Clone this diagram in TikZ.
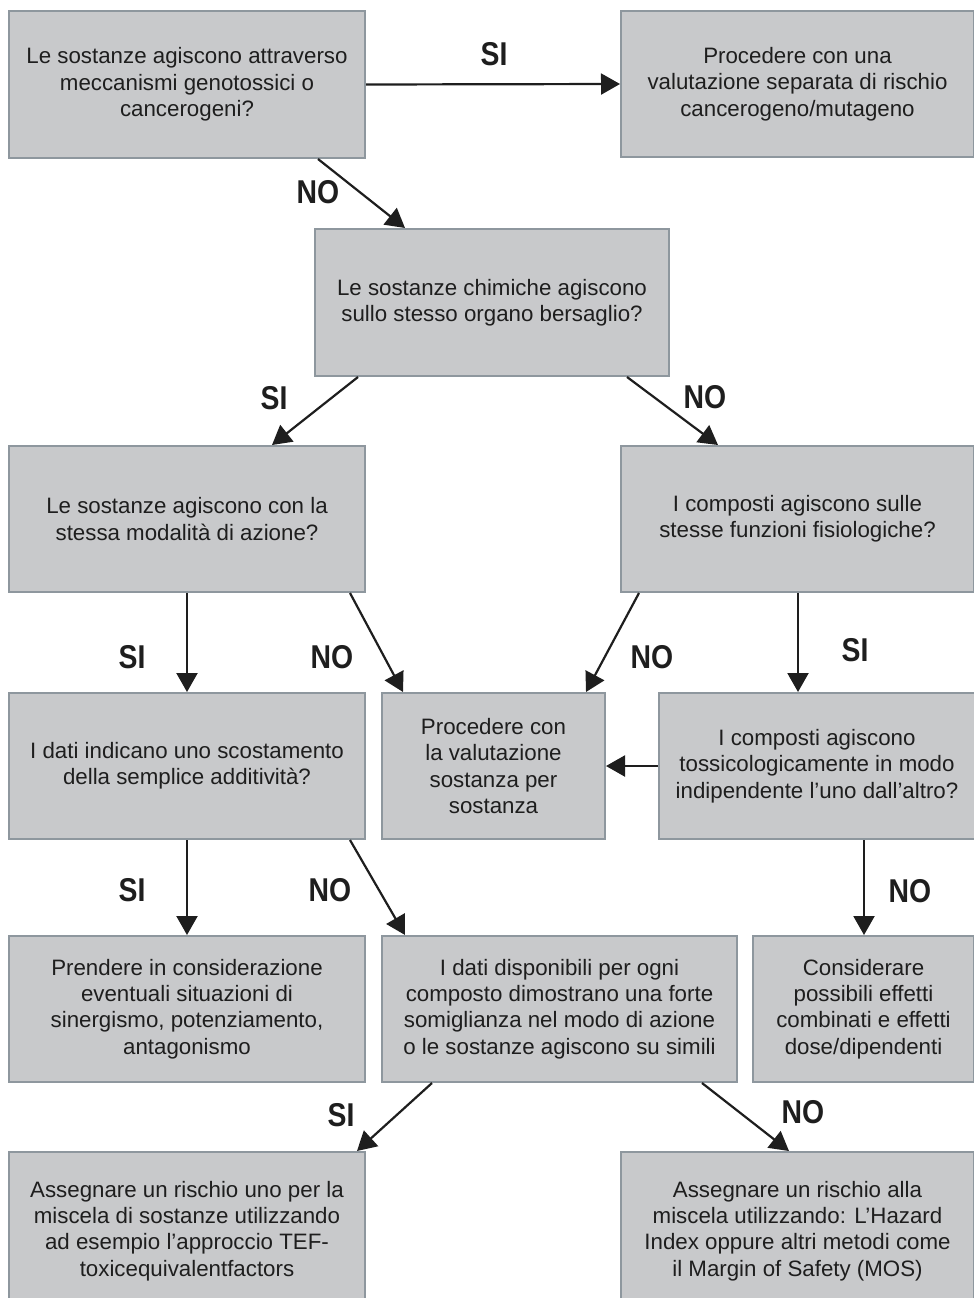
\documentclass[tikz,border=0pt]{standalone}
\usepackage{fontspec}
\setmainfont{Liberation Sans}
\newfontfamily\lblfont{Liberation Sans}[FakeStretch=0.86]
\usetikzlibrary{arrows.meta,calc}
\definecolor{boxfill}{HTML}{C8C9CB}
\definecolor{boxline}{HTML}{8E979E}
\definecolor{ink}{HTML}{1E1E1E}
\tikzset{
  box/.style={draw=boxline, fill=boxfill, line width=2pt, text=ink, align=center,
    inner sep=0pt, font=\fontsize{22.3}{26.3}\selectfont},
  lbl/.style={text=ink, inner sep=0pt, font=\lblfont\bfseries\fontsize{33}{33}\selectfont},
}
\begin{document}
\begin{tikzpicture}[x=1pt, y=-1pt, >={Triangle[length=19pt,width=21pt]}]
            \useasboundingbox (0,0) rectangle (974,1298);
            \clip (0,0) rectangle (974,1298);
            % boxes
            \node[box, minimum width=356, minimum height=147] (geno) at (187,84.5)
                {Le sostanze agiscono attraverso\\meccanismi genotossici o\\cancerogeni?};
            \node[box, minimum width=353, minimum height=146] (sep) at (797.5,84)
                {Procedere con una\\valutazione separata di rischio\\cancerogeno/mutageno};
            \node[box, minimum width=354, minimum height=147] (organ) at (492,302.5)
                {Le sostanze chimiche agiscono\\sullo stesso organo bersaglio?};
            \node[box, minimum width=356, minimum height=146] (mode) at (187,519)
                {Le sostanze agiscono con la\\stessa modalità di azione?};
            \node[box, minimum width=353, minimum height=146] (funz) at (797.5,519)
                {I composti agiscono sulle\\stesse funzioni fisiologiche?};
            \node[box, minimum width=356, minimum height=146] (addit) at (187,766)
                {I dati indicano uno scostamento\\della semplice additività?};
            \node[box, minimum width=223, minimum height=146] (single) at (493.5,766)
                {Procedere con\\la valutazione\\sostanza per\\sostanza};
            \node[box, minimum width=316, minimum height=146] (indip) at (817,766)
                {I composti agiscono\\tossicologicamente in modo\\indipendente l’uno dall’altro?};
            \node[box, minimum width=356, minimum height=146] (sinerg) at (187,1009)
                {Prendere in considerazione\\eventuali situazioni di\\sinergismo, potenziamento,\\antagonismo};
            \node[box, minimum width=355, minimum height=146] (simil) at (559.5,1009)
                {I dati disponibili per ogni\\composto dimostrano una forte\\somiglianza nel modo di azione\\o le sostanze agiscono su simili};
            \node[box, minimum width=221, minimum height=146] (combin) at (863.5,1009)
                {Considerare\\possibili effetti\\combinati e effetti\\dose/dipendenti};
            \node[box, minimum width=356, minimum height=158] (tef) at (187,1231)
                {Assegnare un rischio uno per la\\miscela di sostanze utilizzando\\ad esempio l’approccio TEF-\\toxicequivalentfactors};
            \node[box, minimum width=353, minimum height=158] (hazard) at (797.5,1231)
                {Assegnare un rischio alla\\miscela utilizzando: L’Hazard\\Index oppure altri metodi come\\il Margin of Safety (MOS)};
            % arrows
            \begin{scope}[ink, line width=2.2pt]
                \draw[->] (geno.east) -- (sep.west);
                \draw[->] ($(geno.south west)+(310,0)$) -- ($(organ.north west)+(91,0)$);
                \draw[->] ($(organ.south west)+(44,0)$) -- ($(mode.north west)+(264,0)$);
                \draw[->] ($(organ.south west)+(313,0)$) -- ($(funz.north west)+(98,0)$);
                \draw[->] (mode.south) -- (addit.north);
                \draw[->] ($(mode.south west)+(342,0)$) -- ($(single.north west)+(22,0)$);
                \draw[->] ($(funz.south west)+(19,0)$) -- ($(single.north west)+(205,0)$);
                \draw[->] ($(funz.south west)+(178,0)$) -- ($(indip.north west)+(140,0)$);
                \draw[->] (indip.west) -- (single.east);
                \draw[->] (addit.south) -- (sinerg.north);
                \draw[->] ($(addit.south west)+(342,0)$) -- ($(simil.north west)+(24,0)$);
                \draw[->] ($(indip.south west)+(206,0)$) -- ($(combin.north west)+(112,0)$);
                \draw[->] ($(simil.south west)+(51,0)$) -- ($(tef.north west)+(349,0)$);
                \draw[->] ($(simil.south west)+(321,0)$) -- ($(hazard.north west)+(169,0)$);
            \end{scope}
            % SI / NO
            \node[lbl] (si1) at (494,54) {SI};
            \node[lbl] (no1) at (318,192) {NO};
            \node[lbl] (si2) at (274,398) {SI};
            \node[lbl] (no2) at (705,397) {NO};
            \node[lbl] (si3) at (132,657) {SI};
            \node[lbl] (no3) at (332,657) {NO};
            \node[lbl] (no4) at (652,657) {NO};
            \node[lbl] (si4) at (855,650) {SI};
            \node[lbl] (si5) at (132,890) {SI};
            \node[lbl] (no5) at (330,890) {NO};
            \node[lbl] (no6) at (910,891) {NO};
            \node[lbl] (si6) at (341,1115) {SI};
            \node[lbl] (no7) at (803,1112) {NO};
        \end{tikzpicture}
\end{document}
